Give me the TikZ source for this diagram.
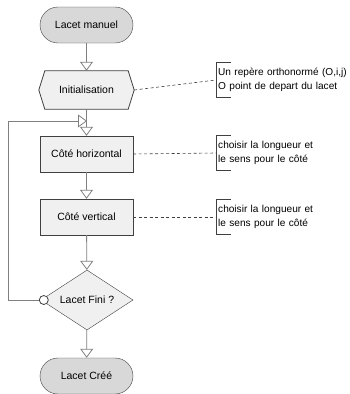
\documentclass[tikz,border=0pt]{standalone}
\usepackage{fontspec}
\setmainfont{Liberation Sans}
\usetikzlibrary{arrows.meta,shapes.geometric,shapes.misc,backgrounds}
\definecolor{bordc}{HTML}{404040}
\definecolor{connc}{HTML}{808080}
\definecolor{termfill}{HTML}{D8D8D8}
\definecolor{procfill}{HTML}{F0F0F0}
\begin{document}
\begin{tikzpicture}[x=1pt,y=-1pt,
  txt/.style={font=\fontsize{10.5}{14}\selectfont, inner sep=0pt},
  term/.style={txt, draw=bordc, fill=termfill, rounded rectangle, minimum width=93pt, minimum height=36pt},
  proc/.style={txt, draw=bordc, fill=procfill, rectangle, minimum width=93pt, minimum height=36pt},
  hexnode/.style={txt, minimum width=95pt, minimum height=38pt},
  dec/.style={txt, draw=bordc, fill=procfill, diamond, aspect=1.53, minimum width=92pt, minimum height=60pt},
  note/.style={txt, font=\fontsize{10.1}{14.5}\selectfont, align=left, anchor=west, minimum height=34pt, inner xsep=2pt, text width=130pt},
  conn/.style={draw=connc, line width=0.8pt, -{Triangle[open, length=9pt, width=13pt, line width=0.8pt]}},
  plain/.style={draw=connc, line width=0.8pt},
  notelink/.style={draw=bordc, line width=0.6pt, dash pattern=on 3pt off 2.5pt},
  bracket/.style={draw=bordc, line width=0.8pt}
]
\useasboundingbox (0,0) rectangle (350,394);

\node[term] (start) at (86.5,25) {Lacet manuel};
\node[hexnode] (init) at (86.5,90) {Initialisation};
\begin{scope}[on background layer]
\draw[draw=bordc, fill=procfill, line width=0.8pt]
  (init.west) -- ([xshift=6pt]init.north west) -- ([xshift=-6pt]init.north east)
  -- (init.east) -- ([xshift=-6pt]init.south east) -- ([xshift=6pt]init.south west) -- cycle;
\end{scope}
\node[proc] (ch) at (86.5,154) {Côté horizontal};
\node[proc] (cv) at (86.5,217) {Côté vertical};
\node[dec] (fin) at (87,300) {Lacet Fini ?};
\node[term] (end) at (86.5,376) {Lacet Créé};

\node[draw=bordc, fill=white, circle, minimum size=9pt, inner sep=0pt, line width=0.8pt] (loopc) at ([xshift=3pt]fin.west) {};

\coordinate (merge) at (87,121);
\coordinate (lt) at (8,121);

\draw[conn] (start) -- (init);
\draw[conn] (init) -- (ch);
\draw[conn] (ch) -- (cv);
\draw[conn] (cv) -- (fin);
\draw[conn] (fin) -- (end);
\draw[plain] (loopc.west) -| (lt);
\draw[conn] (lt) -- (merge);

\node[note] (n1) at (216,80) {Un repère orthonormé (O,i,j)\\O point de depart du lacet};
\node[note] (n2) at (216,153) {choisir la longueur et\\le sens pour le côté};
\node[note] (n3) at (216,217) {choisir la longueur et\\le sens pour le côté};

\foreach \n in {n1,n2,n3}{
  \draw[bracket] ([xshift=15pt]\n.north west) -- (\n.north west) -- (\n.south west) -- ([xshift=15pt]\n.south west);
}
\draw[notelink] (init.east) -- (n1.west);
\draw[notelink] (ch.east) -- (n2.west);
\draw[notelink] (cv.east) -- (n3.west);
\end{tikzpicture}
\end{document}
